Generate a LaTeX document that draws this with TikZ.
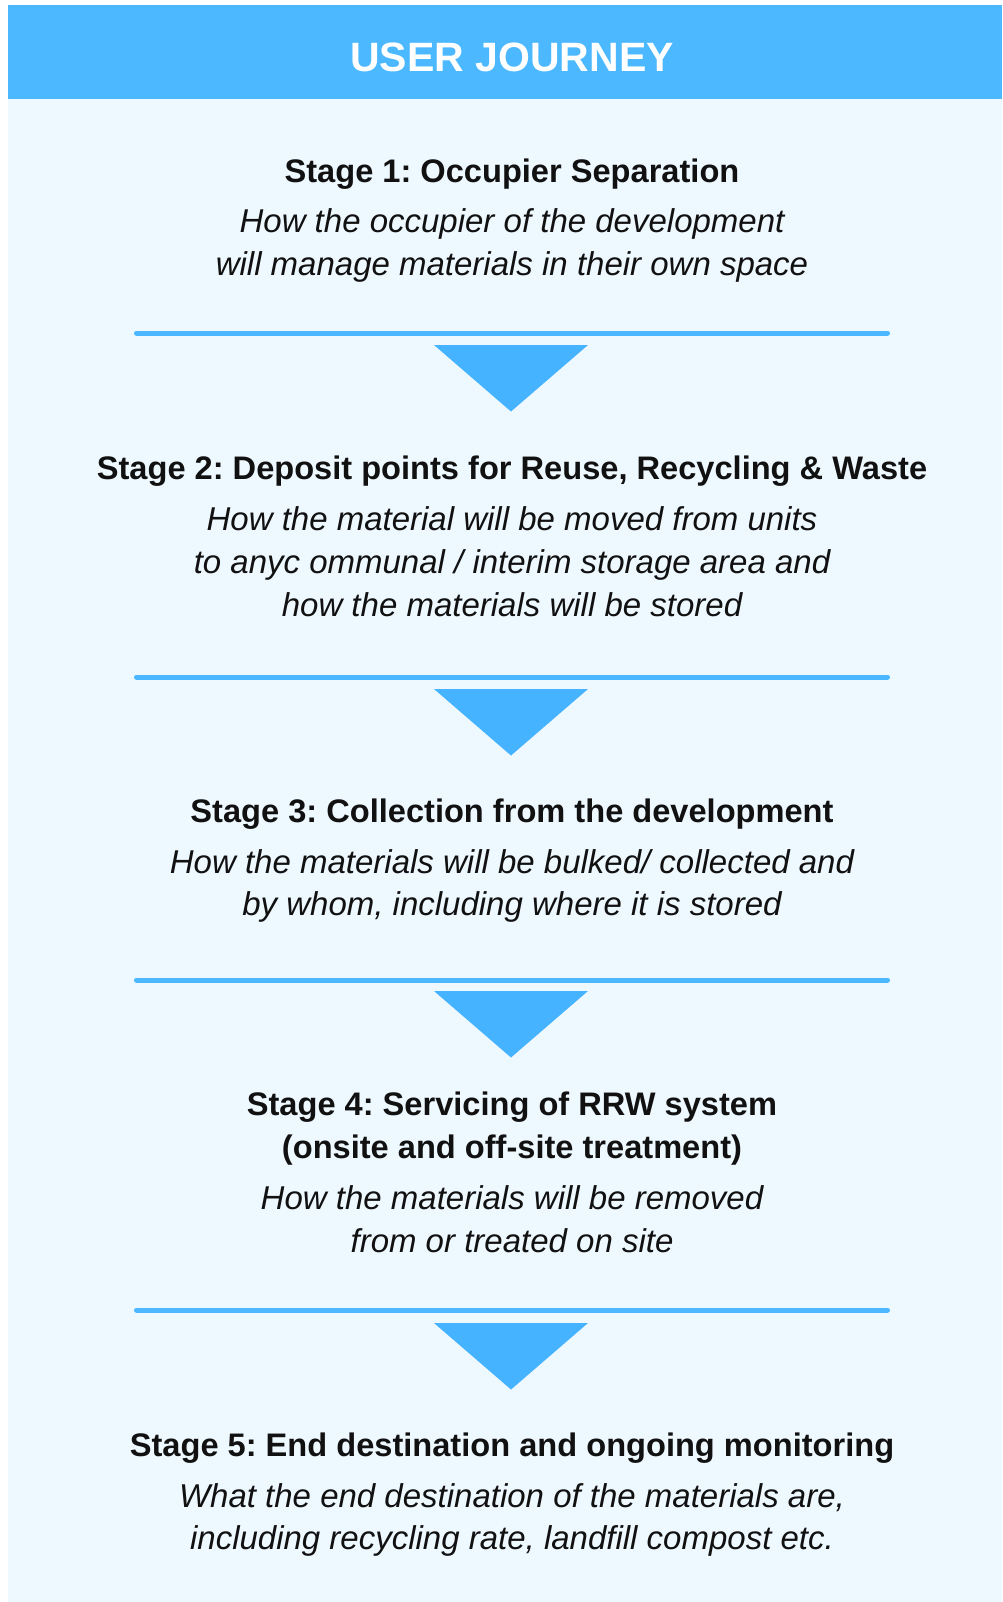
\documentclass[tikz,border=0pt]{standalone}
\usepackage{fontspec}
\setmainfont{Liberation Sans}
\frenchspacing
\definecolor{headblue}{HTML}{4BB8FF}
\definecolor{panelbg}{HTML}{EEF8FF}
\definecolor{arrowblue}{HTML}{45B3FF}
\definecolor{ruleblue}{HTML}{4CB8FF}
\definecolor{ink}{HTML}{111111}
\begin{document}
\begin{tikzpicture}[x=1pt,y=-1pt,
  stagetitle/.style={font=\fontsize{32.6}{43}\selectfont\bfseries, align=center, inner sep=0pt, text=ink},
  stagedesc/.style={font=\fontsize{33}{42.8}\selectfont\itshape, align=center, inner sep=0pt, text=ink},
  divider/.style={draw=ruleblue, line width=5pt, line cap=round},
  pointer/.style={fill=arrowblue}]
\useasboundingbox (0,0) rectangle (1002,1602);
\fill[white] (0,0) rectangle (1002,1602);
% panel and header band
\fill[panelbg] (8,99) rectangle (1002,1602);
\fill[headblue] (8,5) rectangle (1002,99);
\node[font=\fontsize{41}{41}\selectfont\bfseries, text=white, inner sep=0pt] (head) at (512,57.5) {USER JOURNEY};

% stage 1
\node[stagetitle] (s1) at (512,174.5) {Stage 1: Occupier Separation};
\node[stagedesc] (s1d) at (512,245.5) {How the occupier of the development\\will manage materials in their own space};

% stage 2
\node[stagetitle] (s2) at (512,471.5) {Stage 2: Deposit points for Reuse, Recycling \& Waste};
\node[stagedesc] (s2d) at (512,562) {How the material will be moved from units\\to anyc ommunal / interim storage area and\\how the materials will be stored};

% stage 3
\node[stagetitle] (s3) at (512,814.5) {Stage 3: Collection from the development};
\node[stagedesc] (s3d) at (512,886) {How the materials will be bulked/ collected and\\by whom, including where it is stored};

% stage 4
\node[stagetitle] (s4) at (512,1129) {Stage 4: Servicing of RRW system\\(onsite and off-site treatment)};
\node[stagedesc] (s4d) at (512,1219.5) {How the materials will be removed\\from or treated on site};

% stage 5
\node[stagetitle] (s5) at (512,1448) {Stage 5: End destination and ongoing monitoring};
\node[stagedesc] (s5d) at (512,1520) {What the end destination of the materials are,\\including recycling rate, landfill compost etc.};

% dividers with downward pointers between stages
\foreach \i/\ly/\ty in {1/333/345, 2/677/689, 3/980/991, 4/1310/1323}{
  \coordinate (dl\i) at (136.5,\ly);
  \coordinate (dr\i) at (887.5,\ly);
  \draw[divider] (dl\i) -- (dr\i);
  \coordinate (pa\i) at (434,\ty);
  \coordinate (pb\i) at (588,\ty);
  \coordinate (pt\i) at (511,\ty+66.5);
  \fill[pointer] (pa\i) -- (pb\i) -- (pt\i) -- cycle;
}
\end{tikzpicture}
\end{document}
